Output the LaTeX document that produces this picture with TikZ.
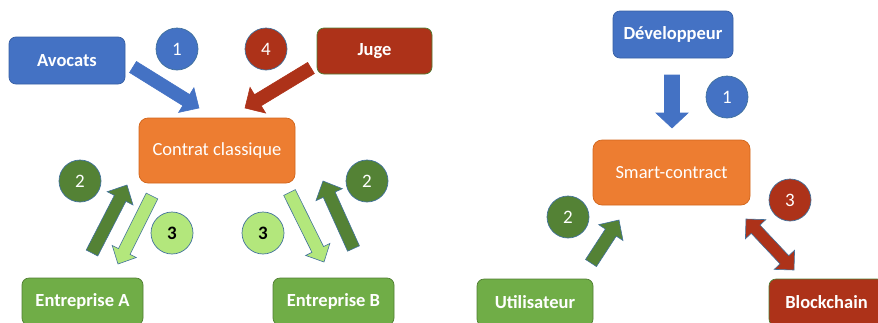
\documentclass[tikz,border=0pt]{standalone}
\usepackage{fontspec}
\setmainfont{Carlito}
\usetikzlibrary{calc}
\definecolor{cblue}{HTML}{4472C4}
\definecolor{cbluedk}{HTML}{2F528F}
\definecolor{corange}{HTML}{ED7D31}
\definecolor{corangedk}{HTML}{C55A11}
\definecolor{cred}{HTML}{AD3219}
\definecolor{cgreen}{HTML}{70AD47}
\definecolor{cgreendk}{HTML}{507E32}
\definecolor{cdkgreen}{HTML}{548235}
\definecolor{clight}{HTML}{B3E77C}
\definecolor{cedge}{HTML}{41719C}
\newcommand\blockarrow[7]{% #1 id, #2 style, #3 tail, #4 tip, #5 shaft half width, #6 head half width, #7 head length
  \coordinate (#1-h) at ($(#4)!#7!(#3)$);
  \filldraw[#2] ($(#3)!#5!90:(#4)$) -- ($(#1-h)!#5!90:(#4)$) -- ($(#1-h)!#6!90:(#4)$) -- (#4)
    -- ($(#1-h)!#6!-90:(#4)$) -- ($(#1-h)!#5!-90:(#4)$) -- ($(#3)!#5!-90:(#4)$) -- cycle;}
\newcommand\dblarrow[7]{% #1 id, #2 style, #3 tip1, #4 tip2, #5 shaft hw, #6 head hw, #7 head length
  \coordinate (#1-ha) at ($(#3)!#7!(#4)$);
  \coordinate (#1-hb) at ($(#4)!#7!(#3)$);
  \filldraw[#2] (#3) -- ($(#1-ha)!#6!90:(#4)$) -- ($(#1-ha)!#5!90:(#4)$) -- ($(#1-hb)!#5!-90:(#3)$)
    -- ($(#1-hb)!#6!-90:(#3)$) -- (#4) -- ($(#1-hb)!#6!90:(#3)$) -- ($(#1-hb)!#5!90:(#3)$)
    -- ($(#1-ha)!#5!-90:(#4)$) -- ($(#1-ha)!#6!-90:(#4)$) -- cycle;}
\tikzset{
  box/.style={rectangle, rounded corners=7pt, line width=0.7pt, text=white,
    font=\bfseries\fontsize{18.5}{20}\selectfont, inner sep=0pt},
  mainbox/.style={rectangle, rounded corners=9pt, line width=0.7pt, text=white,
    font=\fontsize{18.5}{20}\selectfont, inner sep=0pt, fill=corange, draw=corangedk!70!corange},
  num/.style={circle, minimum size=42pt, inner sep=0pt, draw=cedge, line width=0.7pt,
    text=white, font=\fontsize{19}{20}\selectfont},
  arr/.style={line width=0.6pt, line join=miter, draw=cedge},
}
\begin{document}
\begin{tikzpicture}[x=1pt,y=-1pt]
\path[use as bounding box] (0,0) rectangle (878,322);
\clip (0,0) rectangle (878,322);
% ---------- left diagram ----------
\node[box, fill=cblue, draw=cbluedk!60!cblue, minimum width=116pt, minimum height=47pt] (avocats) at (67,60.5) {Avocats};
\node[box, fill=cred, draw=cgreendk, minimum width=115pt, minimum height=46pt] (juge) at (374.5,51) {Juge};
\node[mainbox, minimum width=156pt, minimum height=65pt] (contrat) at (217,150.5) {Contrat classique};
\node[box, fill=cgreen, draw=cgreendk, minimum width=121pt, minimum height=47pt] (entA) at (82.5,301.5) {Entreprise A};
\node[box, fill=cgreen, draw=cgreendk, minimum width=121pt, minimum height=47pt] (entB) at (333.5,301.5) {Entreprise B};

\node[num, fill=cblue] (n1) at (177,49) {1};
\node[num, fill=cred] (n4) at (266,49) {4};
\node[num, fill=cdkgreen] (n2a) at (80,181) {2};
\node[num, fill=clight, text=black, font=\bfseries\fontsize{19}{20}\selectfont] (n3a) at (172,233) {3};
\node[num, fill=clight, text=black, font=\bfseries\fontsize{19}{20}\selectfont] (n3b) at (263,233) {3};
\node[num, fill=cdkgreen] (n2b) at (367,181) {2};

\coordinate (a1s) at (133,67);  \coordinate (a1t) at (199,108);
\coordinate (a4s) at (311,68);  \coordinate (a4t) at (245,108);
\coordinate (a2as) at (92,253); \coordinate (a2at) at (127,185);
\coordinate (a3as) at (152,196); \coordinate (a3at) at (118,264);
\coordinate (a3bs) at (289.5,192.5); \coordinate (a3bt) at (324,262);
\coordinate (a2bs) at (353.5,248.5); \coordinate (a2bt) at (323,181);
\blockarrow{A1}{arr, fill=cblue, draw=cblue}{a1s}{a1t}{6.5pt}{14.5pt}{15pt}
\blockarrow{A4}{arr, fill=cred, draw=cred}{a4s}{a4t}{6.5pt}{15pt}{15pt}
\blockarrow{A2a}{arr, fill=cdkgreen}{a2as}{a2at}{6.5pt}{14.5pt}{15pt}
\blockarrow{A3a}{arr, fill=clight}{a3as}{a3at}{6.5pt}{13.5pt}{14pt}
\blockarrow{A3b}{arr, fill=clight}{a3bs}{a3bt}{6.5pt}{13.5pt}{14pt}
\blockarrow{A2b}{arr, fill=cdkgreen}{a2bs}{a2bt}{6.5pt}{14.5pt}{15pt}

% ---------- right diagram ----------
\node[box, fill=cblue, draw=cbluedk!60!cblue, minimum width=120pt, minimum height=47pt] (dev) at (673,34.5) {Développeur};
\node[mainbox, minimum width=157pt, minimum height=65pt] (smart) at (671.5,172.5) {Smart-contract};
\node[box, fill=cgreen, draw=cgreendk, minimum width=116pt, minimum height=47pt] (util) at (535,302.5) {Utilisateur};
\node[box, fill=cred, draw=cgreendk, minimum width=115pt, minimum height=47pt] (block) at (826.5,302.5) {Blockchain};

\node[num, fill=cblue] (m1) at (727,97) {1};
\node[num, fill=cdkgreen] (m2) at (568,217) {2};
\node[num, fill=cred] (m3) at (790,200) {3};

\coordinate (b1s) at (672,75);  \coordinate (b1t) at (672,128);
\coordinate (b2s) at (591,263); \coordinate (b2t) at (619,220);
\coordinate (b3a) at (746,219); \coordinate (b3b) at (794,270);
\blockarrow{B1}{arr, fill=cblue, draw=cblue}{b1s}{b1t}{7.5pt}{16pt}{15pt}
\blockarrow{B2}{arr, fill=cdkgreen}{b2s}{b2t}{6.5pt}{14.5pt}{15pt}
\dblarrow{B3}{arr, fill=cred}{b3a}{b3b}{6pt}{14pt}{14pt}
\end{tikzpicture}
\end{document}
